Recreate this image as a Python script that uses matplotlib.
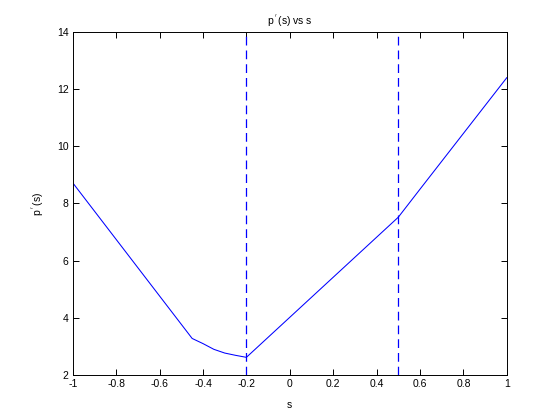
import matplotlib
matplotlib.use('Agg')
import matplotlib.pyplot as plt

# data
s = [-1.0, -0.45, -0.4, -0.35, -0.3, -0.25, -0.2, 0.5, 0.6, 0.8, 1.0]
p = [8.72, 3.28, 3.10, 2.90, 2.77, 2.69, 2.62, 7.52, 8.50, 10.45, 12.40]
vlines = [-0.2, 0.5]
xticks = [-1, -0.8, -0.6, -0.4, -0.2, 0, 0.2, 0.4, 0.6, 0.8, 1]
xticklabels = ['-1', '-0.8', '-0.6', '-0.4', '-0.2', '0', '0.2', '0.4', '0.6', '0.8', '1']
yticks = [2, 4, 6, 8, 10, 12, 14]

plt.rcParams['font.family'] = ['Liberation Sans', 'DejaVu Sans']
fig = plt.figure(figsize=(5.6, 4.2), dpi=100)
ax = fig.add_axes([0.13, 0.107, 0.775, 0.817])

ax.plot(s, p, color='#0000ff', lw=0.75)
for v in vlines:
    ax.axvline(v, color='#0000ff', lw=0.9, dashes=(7, 4))

ax.set_xlim(-1, 1)
ax.set_ylim(2, 14)
ax.set_xticks(xticks)
ax.set_xticklabels(xticklabels)
ax.set_yticks(yticks)
ax.tick_params(direction='in', top=True, right=True, length=4, width=0.7, labelsize=7.5, pad=3)
for sp in ax.spines.values():
    sp.set_linewidth(0.7)

ax.set_title(r"p$^{\,'}\,$(s) vs s", fontsize=7.5, pad=5)
ax.set_xlabel('s', fontsize=7.5, labelpad=8)
ax.set_ylabel(r"p$^{\,'}\,$(s)", fontsize=7.5, labelpad=8)

plt.savefig('out.png', dpi=100)
